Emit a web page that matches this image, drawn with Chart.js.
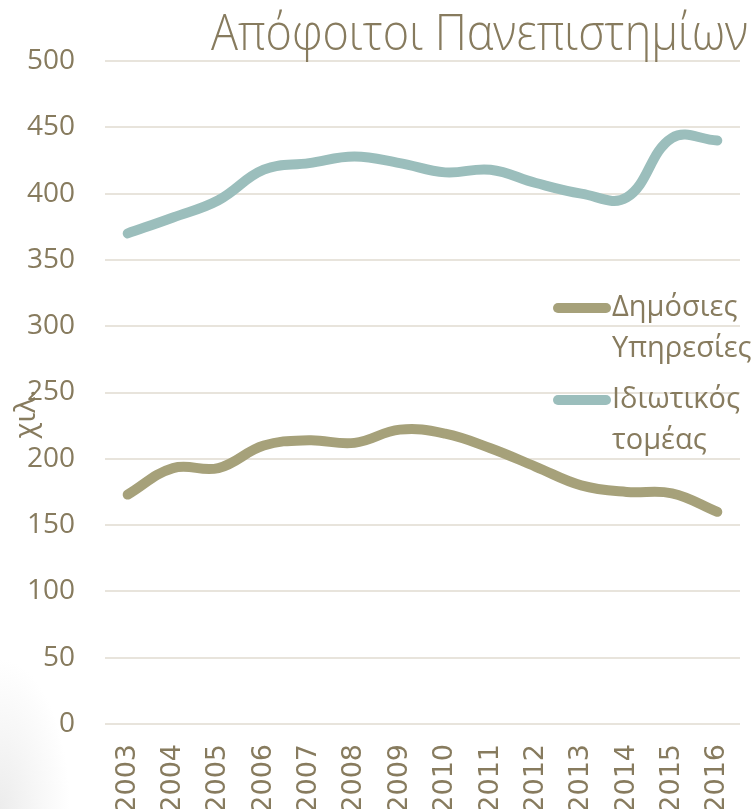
<!DOCTYPE html>
<html>
<head>
<meta charset="utf-8">
<script src="https://cdn.jsdelivr.net/npm/chart.js@4.4.1/dist/chart.umd.min.js"></script>
<style>
  html, body { margin: 0; padding: 0; overflow: hidden; }
  body {
    width: 753px; height: 809px;
    background: radial-gradient(ellipse 70px 150px at 0% 100%, #ececec 0%, #f6f6f6 50%, #ffffff 100%);
  }
  canvas { display: block; }
</style>
</head>
<body>
<canvas id="chart" width="753" height="809"></canvas>
<script>
// Chart data
const years = ['2003', '2004', '2005', '2006', '2007', '2008', '2009', '2010', '2011', '2012', '2013', '2014', '2015', '2016'];
const publicSector = [173, 193, 193, 210, 214, 212, 222, 219, 208, 194, 180, 175, 174, 160];
const privateSector = [370, 382, 395, 418, 423, 428, 423, 416, 418, 408, 400, 397, 442, 440];
const seriesLabels = ['Δημόσιες Υπηρεσίες', 'Ιδιωτικός τομέας'];
const yMin = 0;
const yMax = 500;
const yStep = 50;
const titleText = 'Απόφοιτοι Πανεπιστημίων';
const unitLabel = 'χιλ.';

const textColor = '#877b5e';
const gridColor = '#e8e4dc';
const olive = '#a6a17a';
const teal = '#9bbebc';

// Title, unit label and legend drawn by hand
const decorations = {
    id: 'decorations',
    afterDraw(chart) {
        const ctx = chart.ctx;
        ctx.save();
        ctx.fillStyle = textColor;

        // title, squeezed to the width it has in the picture
        ctx.font = '300 50px "Open Sans"';
        const w = ctx.measureText(titleText).width;
        ctx.save();
        ctx.translate(748, 50);
        ctx.scale(537 / w, 1);
        ctx.textAlign = 'right';
        ctx.textBaseline = 'alphabetic';
        ctx.fillText(titleText, 0, 0);
        ctx.restore();

        // unit on the y axis
        ctx.save();
        ctx.translate(27, 414);
        ctx.rotate(-Math.PI / 2);
        ctx.font = '29px "Open Sans"';
        ctx.textAlign = 'center';
        ctx.textBaseline = 'middle';
        ctx.fillText(unitLabel, 0, 0);
        ctx.restore();

        // legend
        ctx.font = '29px "Open Sans"';
        ctx.textAlign = 'left';
        ctx.textBaseline = 'middle';
        chart.data.datasets.forEach((ds, i) => {
            const y0 = 308 + i * 92;
            ctx.strokeStyle = ds.borderColor;
            ctx.lineWidth = 10;
            ctx.lineCap = 'round';
            ctx.beginPath();
            ctx.moveTo(558, y0);
            ctx.lineTo(606, y0);
            ctx.stroke();
            ds.label.split(' ').forEach((line, j) => {
                ctx.fillText(line, 612, y0 + j * 41);
            });
        });
        ctx.restore();
    }
};

const ctx = document.getElementById('chart');
new Chart(ctx, {
    type: 'line',
    data: {
        labels: years,
        datasets: [{
            label: seriesLabels[0],
            data: publicSector,
            borderColor: olive,
            borderWidth: 10,
            borderCapStyle: 'round',
            borderJoinStyle: 'round',
            pointRadius: 0,
            tension: 0.4,
            fill: false,
        }, {
            label: seriesLabels[1],
            data: privateSector,
            borderColor: teal,
            borderWidth: 10,
            borderCapStyle: 'round',
            borderJoinStyle: 'round',
            pointRadius: 0,
            tension: 0.4,
            fill: false,
        }]
    },
    options: {
        responsive: false,
        animation: false,
        layout: {
            padding: { top: 61, right: 13, bottom: 0, left: 0 }
        },
        plugins: {
            legend: { display: false },
            title: { display: false },
            tooltip: { enabled: false },
        },
        scales: {
            x: {
                offset: true,
                grid: { display: false, drawTicks: false },
                border: { display: false },
                ticks: {
                    color: textColor,
                    font: { family: '"DejaVu Sans"', size: 27 },
                    minRotation: 90,
                    maxRotation: 90,
                    padding: 20,
                    autoSkip: false,
                },
                afterFit(scale) {
                    scale.height = 85;
                    scale.paddingLeft = 0;
                    scale.paddingRight = 0;
                }
            },
            y: {
                min: yMin,
                max: yMax,
                grid: { color: gridColor, lineWidth: 2, drawTicks: false },
                border: { display: false },
                ticks: {
                    stepSize: yStep,
                    color: textColor,
                    font: { family: '"Open Sans"', size: 28 },
                    padding: 30,
                },
                afterFit(scale) {
                    scale.width = 105;
                    scale.paddingTop = 0;
                    scale.paddingBottom = 0;
                }
            }
        }
    },
    plugins: [decorations]
});
</script>
</body>
</html>
